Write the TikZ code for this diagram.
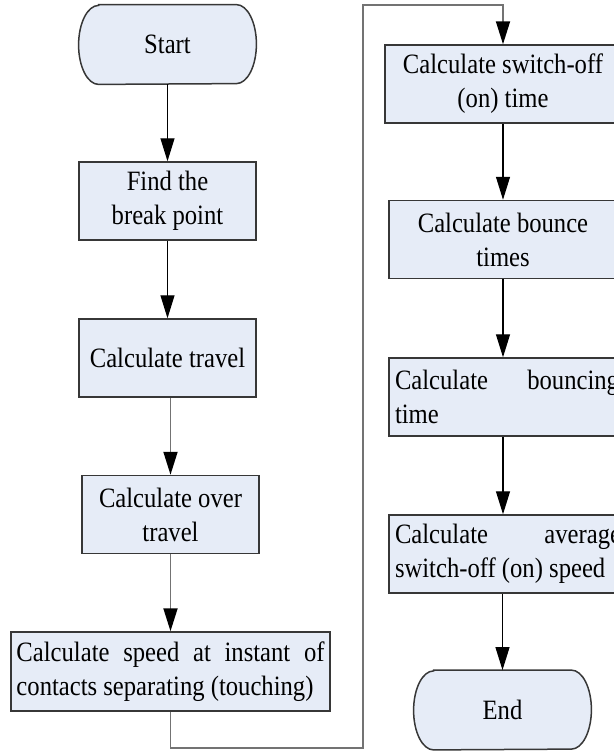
\documentclass[tikz,border=0pt]{standalone}
\usepackage{fontspec}
\setmainfont{Liberation Serif}[FakeStretch=0.88]
\usetikzlibrary{arrows.meta, backgrounds}
\definecolor{boxfill}{RGB}{230,236,247}
\definecolor{boxline}{RGB}{55,55,55}
\definecolor{linegray}{RGB}{115,115,115}
\hyphenpenalty=10000
\exhyphenpenalty=10000
\tolerance=9999
\tikzset{
    box/.style={draw=boxline, fill=boxfill, line width=0.75pt, minimum width=88.5pt,
        minimum height=39pt, align=center, inner sep=2pt},
    widebox/.style={box, align=justify, inner xsep=3pt},
    term/.style={minimum width=88.5pt, minimum height=39.5pt, inner sep=0pt},
    link/.style={-{Triangle[length=11.5pt,width=7pt,color=black]}, line width=0.6pt},
    greylink/.style={link, draw=linegray, line width=0.9pt},
}
\begin{document}
\begin{tikzpicture}[x=0.5pt,y=-0.5pt,font=\fontsize{14}{17}\selectfont]
    \useasboundingbox (0,0) rectangle (614,751);
    \clip (0,0) rectangle (614,751);

    % left column
    \node[term] (start) at (167.5,44.5) {Start};
    \node[box] (findbp) at (167.5,201) {Find the\\break point};
    \node[box] (travel) at (167.5,358) {Calculate travel};
    \node[box] (overtravel) at (170.5,514.5) {Calculate over\\travel};
    \node[widebox, text width=154pt, inner xsep=2.75pt, minimum height=39.5pt] (speed) at (170.5,671.5)
        {Calculate speed at instant of contacts separating (touching)};

    % right column
    \node[box, minimum width=118pt] (offtime) at (503,84) {Calculate switch-off\\(on) time};
    \node[box, minimum width=114pt] (bounces) at (503,239.5) {Calculate bounce\\times};
    \node[widebox, text width=112pt] (bouncetime) at (507,397) {Calculate bouncing time};
    \node[widebox, text width=113pt] (avgspeed) at (508,554) {Calculate average switch-off (on) speed};
    \node[term] (stop) at (502.5,710) {End};

    \begin{scope}[on background layer]
        \foreach \t in {start,stop}
            \filldraw[draw=boxline, fill=boxfill, line width=0.75pt]
                ([xshift=10pt]\t.north west) -- ([xshift=-10pt]\t.north east)
                arc[start angle=90, end angle=-90, x radius=10pt, y radius=19.75pt]
                -- ([xshift=10pt]\t.south west)
                arc[start angle=270, end angle=90, x radius=10pt, y radius=19.75pt] -- cycle;
    \end{scope}

    \coordinate (lowturn) at (363,748);
    \coordinate (highturn) at (363,5);

    \draw[link] (start) -- (findbp);
    \draw[link] (findbp) -- (travel);
    \draw[greylink] (overtravel.north |- travel.south) -- (overtravel.north);
    \draw[greylink] (overtravel) -- (speed);
    \draw[greylink] (speed.south) |- (lowturn) -- (highturn) -| (offtime.north);
    \draw[link] (offtime) -- (bounces);
    \draw[link] (bounces.south) -- (bounces.south |- bouncetime.north);
    \draw[link] (bounces.south |- bouncetime.south) -- (bounces.south |- avgspeed.north);
    \draw[link] (stop.north |- avgspeed.south) -- (stop);
\end{tikzpicture}
\end{document}
